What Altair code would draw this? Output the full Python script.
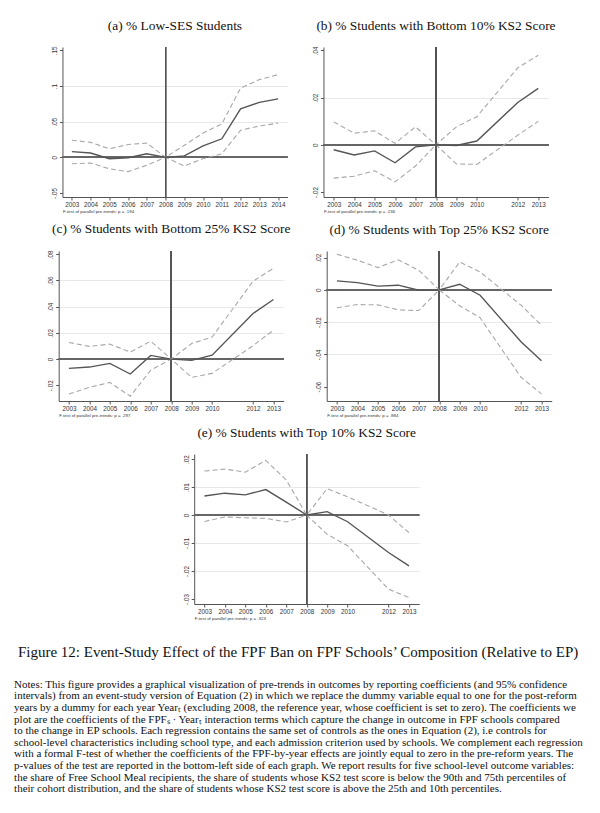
import altair as alt
import pandas as pd

# ---------------- data ----------------
years_a = [2003, 2004, 2005, 2006, 2007, 2008, 2009, 2010, 2011, 2012, 2013, 2014]
years_b = [2003, 2004, 2005, 2006, 2007, 2008, 2009, 2010, 2012, 2013]

a_coef = [0.008, 0.006, -0.002, -0.0005, 0.005, 0.0, 0.002, 0.016, 0.026, 0.068, 0.077, 0.082]
a_hi = [0.024, 0.021, 0.012, 0.018, 0.020, 0.0, 0.017, 0.034, 0.047, 0.097, 0.109, 0.116]
a_lo = [-0.009, -0.008, -0.016, -0.020, -0.011, 0.0, -0.012, -0.002, 0.005, 0.038, 0.044, 0.048]

b_coef = [-0.0021, -0.0043, -0.0026, -0.0076, -0.0009, 0.0, -0.0003, 0.0016, 0.0179, 0.0239]
b_hi = [0.0097, 0.0049, 0.0059, 0.0006, 0.0076, 0.0, 0.0076, 0.0119, 0.0326, 0.0379]
b_lo = [-0.0141, -0.0133, -0.0110, -0.0157, -0.0090, 0.0, -0.0081, -0.0083, 0.0041, 0.0099]

c_coef = [-0.0071, -0.0061, -0.0033, -0.0114, 0.0028, 0.0, -0.0010, 0.0030, 0.0348, 0.0455]
c_hi = [0.0127, 0.0097, 0.0114, 0.0053, 0.0137, 0.0, 0.0119, 0.0168, 0.0594, 0.0693]
c_lo = [-0.0267, -0.0216, -0.0178, -0.0284, -0.0084, 0.0, -0.0140, -0.0109, 0.0102, 0.0221]

d_coef = [0.0056, 0.0045, 0.0023, 0.0029, -0.0002, 0.0, 0.0035, -0.0033, -0.0322, -0.0439]
d_hi = [0.0221, 0.0184, 0.0138, 0.0186, 0.0122, 0.0, 0.0173, 0.0111, -0.0095, -0.0219]
d_lo = [-0.0111, -0.0091, -0.0093, -0.0124, -0.0128, 0.0, -0.0099, -0.0173, -0.0542, -0.0645]

e_coef = [0.0068, 0.0078, 0.0072, 0.0091, 0.0046, 0.0, 0.0012, -0.0024, -0.0134, -0.0182]
e_hi = [0.0157, 0.0164, 0.0153, 0.0195, 0.0125, 0.0, 0.0094, 0.0065, 0.0000, -0.0063]
e_lo = [-0.0023, -0.0007, -0.0010, -0.0012, -0.0025, 0.0, -0.0069, -0.0110, -0.0265, -0.0295]

titles = [
    "(a) % Low-SES Students",
    "(b) % Students with Bottom 10% KS2 Score",
    "(c) % Students with Bottom 25% KS2 Score",
    "(d) % Students with Top 25% KS2 Score",
    "(e) % Students with Top 10% KS2 Score",
]
pvals = [".194", ".236", ".297", ".884", ".323"]

yticks_a = [-0.05, 0, 0.05, 0.1, 0.15]
yticks_b = [-0.02, 0, 0.02, 0.04]
yticks_c = [-0.02, 0, 0.02, 0.04, 0.06, 0.08]
yticks_d = [-0.06, -0.04, -0.02, 0, 0.02]
yticks_e = [-0.03, -0.02, -0.01, 0, 0.01, 0.02]

ydom_a = [-0.0556, 0.1547]
ydom_b = [-0.0221, 0.0414]
ydom_c = [-0.032, 0.0825]
ydom_d = [-0.0689, 0.0241]
ydom_e = [-0.0318, 0.0218]

ref_year = 2008

caption = "Figure 12: Event-Study Effect of the FPF Ban on FPF Schools\u2019 Composition (Relative to EP)"
notes = [
    "Notes: This figure provides a graphical visualization of pre-trends in outcomes by reporting coefficients (and 95% confidence",
    "intervals) from an event-study version of Equation (2) in which we replace the dummy variable equal to one for the post-reform",
    "years by a dummy for each year Year\u209c (excluding 2008, the reference year, whose coefficient is set to zero). The coefficients we",
    "plot are the coefficients of the FPF\u209b \u00b7 Year\u209c interaction terms which capture the change in outcome in FPF schools compared",
    "to the change in EP schools. Each regression contains the same set of controls as the ones in Equation (2), i.e controls for",
    "school-level characteristics including school type, and each admission criterion used by schools. We complement each regression",
    "with a formal F-test of whether the coefficients of the FPF-by-year effects are jointly equal to zero in the pre-reform years. The",
    "p-values of the test are reported in the bottom-left side of each graph. We report results for five school-level outcome variables:",
    "the share of Free School Meal recipients, the share of students whose KS2 test score is below the 90th and 75th percentiles of",
    "their cohort distribution, and the share of students whose KS2 test score is above the 25th and 10th percentiles.",
]

# ---------------- styling ----------------
W, H = 225, 150
SANS = "Liberation Sans"
SERIF = "Liberation Serif"
LABEL_EXPR = ("datum.value == 0 ? '0' : "
              "replace(replace(toString(datum.value), '-0.', '-.'), '0.', '.')")


def panel(title, years, coef, lo, hi, yticks, ydom, pval):
    df = pd.DataFrame({"year": years, "coef": coef, "lo": lo, "hi": hi})
    xdom = [years[0] - 0.5, years[-1] + 0.5]
    xscale = alt.Scale(domain=xdom, nice=False, zero=False)
    yscale = alt.Scale(domain=ydom, nice=False, zero=False)
    lo_t, hi_t = min(yticks), max(yticks)
    xaxis = alt.Axis(
        values=years, format="d", grid=False, labelFont=SANS, labelFontSize=6.3,
        labelColor="#333", labelPadding=1, tickSize=3, tickColor="#555",
        domainColor="#555", domainWidth=1, labelFlush=False,
        title=f"F-test of parallel pre-trends: p = {pval}", titleFont=SANS,
        titleFontSize=4.4, titleFontWeight="normal", titleColor="#333",
        titleAnchor="start", titleAlign="left", titlePadding=2,
    )
    yaxis = alt.Axis(
        values=yticks, labelExpr=LABEL_EXPR, labelAngle=-90, labelAlign="center",
        labelBaseline="bottom", labelFont=SANS, labelFontSize=6.3, labelColor="#333",
        labelPadding=2, tickSize=3, tickColor="#555", domainColor="#555",
        domainWidth=1, grid=True, gridColor="#e2e2e2", gridWidth=0.8,
        gridOpacity={"condition": {"test": f"datum.value <= {lo_t} || datum.value >= {hi_t}",
                                   "value": 0}, "value": 1},
        title=None, labelFlush=False,
    )
    x = alt.X("year:Q", scale=xscale, axis=xaxis)
    base = alt.Chart(df)
    vline = base.mark_rule(color="#555", strokeWidth=1).encode(
        x=alt.XDatum(ref_year, scale=xscale, axis=xaxis))
    hline = base.mark_rule(color="#666", strokeWidth=1.2).encode(
        y=alt.YDatum(0, scale=yscale, axis=yaxis))
    upper = base.mark_line(color="#a8a8a8", strokeWidth=1.1, strokeDash=[5, 3]).encode(
        x=x, y=alt.Y("hi:Q", scale=yscale, axis=yaxis))
    lower = base.mark_line(color="#a8a8a8", strokeWidth=1.1, strokeDash=[5, 3]).encode(
        x=x, y=alt.Y("lo:Q", scale=yscale, axis=yaxis))
    main = base.mark_line(color="#555", strokeWidth=1.4).encode(
        x=x, y=alt.Y("coef:Q", scale=yscale, axis=yaxis))
    return alt.layer(vline, hline, upper, lower, main).properties(
        width=W, height=H,
        title=alt.TitleParams(title, font=SERIF, fontSize=13.4, fontWeight="normal",
                              color="#111", offset=14, anchor="middle"),
    )


def blank(w, h):
    # invisible placeholder view used only to nudge the layout
    return alt.Chart(pd.DataFrame({"v": [0]})).mark_rule(opacity=0).encode(
        y=alt.value(0)).properties(width=w, height=h)


pa = panel(titles[0], years_a, a_coef, a_lo, a_hi, yticks_a, ydom_a, pvals[0])
pb = panel(titles[1], years_b, b_coef, b_lo, b_hi, yticks_b, ydom_b, pvals[1])
pc = panel(titles[2], years_b, c_coef, c_lo, c_hi, yticks_c, ydom_c, pvals[2])
pd_ = panel(titles[3], years_b, d_coef, d_lo, d_hi, yticks_d, ydom_d, pvals[3])
pe = panel(titles[4], years_b, e_coef, e_lo, e_hi, yticks_e, ydom_e, pvals[4])

notes_df = pd.DataFrame({"i": list(range(len(notes))), "line": notes})
notes_chart = alt.Chart(notes_df).mark_text(
    align="left", baseline="middle", font=SERIF, fontSize=11.0, color="#111"
).encode(
    x=alt.value(0),
    y=alt.Y("i:O", axis=None, scale=alt.Scale(paddingOuter=0.5, paddingInner=0)),
    text="line:N",
).properties(
    width=568, height=116,
    title=alt.TitleParams(caption, font=SERIF, fontSize=15, fontWeight="normal",
                          color="#111", offset=19, anchor="middle"),
)

row1 = alt.hconcat(blank(9, 10), alt.hconcat(pa, pb, spacing=24), spacing=0)
row2 = alt.hconcat(blank(2, 10), alt.hconcat(pc, pd_, spacing=24), spacing=0)
row3 = alt.hconcat(blank(6, 10), pe, spacing=0)

chart = alt.vconcat(row1, row2, row3, blank(10, 6), notes_chart,
                    spacing=9, center=True).configure(
    background="white",
    padding={"top": 10, "left": 6, "right": 0, "bottom": 0},
    view=alt.ViewConfig(stroke="transparent", strokeWidth=0),
)

chart.save("out.html", embed_options={"renderer": "svg", "actions": False})
